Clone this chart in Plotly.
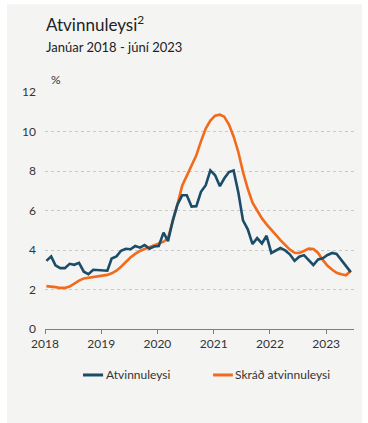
import pandas as pd
import plotly.graph_objects as go

# Monthly observations, January 2018 - June 2023
months = pd.date_range("2018-01-01", periods=66, freq="MS") + pd.Timedelta(days=9)

atvinnuleysi = [
    3.45, 3.68, 3.22, 3.08, 3.08, 3.30, 3.25, 3.35, 2.90, 2.78, 3.00, 2.98,
    2.98, 2.95, 3.57, 3.68, 3.96, 4.06, 4.04, 4.20, 4.12, 4.25, 4.07, 4.18,
    4.20, 4.88, 4.45, 5.50, 6.30, 6.77, 6.77, 6.20, 6.22, 6.95, 7.28, 8.03,
    7.78, 7.23, 7.62, 7.95, 8.03, 6.90, 5.50, 5.05, 4.30, 4.60, 4.33, 4.72,
    3.85, 3.98, 4.10, 3.98, 3.78, 3.45, 3.66, 3.74, 3.48, 3.24, 3.52, 3.58,
    3.75, 3.85, 3.80, 3.48, 3.15, 2.88,
]
skrad = [
    2.17, 2.16, 2.12, 2.08, 2.08, 2.15, 2.30, 2.45, 2.56, 2.60, 2.63, 2.66,
    2.69, 2.74, 2.82, 2.95, 3.15, 3.40, 3.62, 3.80, 3.95, 4.05, 4.15, 4.25,
    4.33, 4.42, 4.60, 5.40, 6.30, 7.25, 7.75, 8.25, 8.80, 9.50, 10.15, 10.55,
    10.80, 10.85, 10.75, 10.35, 9.75, 8.95, 7.95, 7.10, 6.40, 6.00, 5.60, 5.30,
    5.00, 4.75, 4.50, 4.25, 4.02, 3.86, 3.85, 3.95, 4.07, 4.05, 3.85, 3.50,
    3.20, 3.00, 2.85, 2.77, 2.72, 2.95,
]
series_names = ["Atvinnuleysi", "Skráð atvinnuleysi"]
year_ticks = ["2018", "2019", "2020", "2021", "2022", "2023"]
y_ticks = [0, 2, 4, 6, 8, 10, 12]

BLUE = "#1b4d68"
ORANGE = "#f26a1b"
FONT = "Lato"
TXT = "#333333"

fig = go.Figure()
fig.add_trace(go.Scatter(x=months, y=skrad, name=series_names[1], mode="lines",
                         line=dict(color=ORANGE, width=2.6)))
fig.add_trace(go.Scatter(x=months, y=atvinnuleysi, name=series_names[0], mode="lines",
                         line=dict(color=BLUE, width=2.6)))

fig.update_layout(
    width=368, height=423,
    margin=dict(l=45, r=14, t=92, b=94),
    paper_bgcolor="white",
    plot_bgcolor="rgba(0,0,0,0)",
    showlegend=False,
    font=dict(family=FONT, size=12, color=TXT),
    xaxis=dict(
        range=["2018-01-01", "2023-07-01"],
        tickvals=[f"{y}-01-01" for y in year_ticks],
        ticktext=year_ticks,
        showgrid=False, showline=True, linecolor="#7f7f7f", linewidth=1,
        ticks="outside", ticklen=4, tickcolor="#7f7f7f",
        tickfont=dict(size=12, color=TXT), zeroline=False,
    ),
    yaxis=dict(
        range=[0, 12], tickvals=y_ticks,
        showgrid=True, gridcolor="#c9c9c9", griddash="dot", gridwidth=1,
        zeroline=False, showline=False, ticks="",
        ticklabelstandoff=8,
        tickfont=dict(size=12, color=TXT),
    ),
    shapes=[
        dict(type="rect", xref="paper", yref="paper", x0=-0.123, x1=1.026,
             y0=-0.40, y1=1.37, fillcolor="#f4f4f3", line=dict(width=0), layer="below"),
        dict(type="line", xref="paper", yref="paper", x0=0.123, x1=0.188,
             y0=-0.194, y1=-0.194, line=dict(color=BLUE, width=3)),
        dict(type="line", xref="paper", yref="paper", x0=0.544, x1=0.608,
             y0=-0.194, y1=-0.194, line=dict(color=ORANGE, width=3)),
    ],
    annotations=[
        dict(text="Atvinnuleysi<sup>2</sup>", xref="paper", yref="paper", x=-0.003, y=1.29,
             xanchor="left", yanchor="middle", showarrow=False,
             font=dict(size=17, color="#222222", family=FONT)),
        dict(text="Janúar 2018 - júní 2023", xref="paper", yref="paper", x=-0.003, y=1.188,
             xanchor="left", yanchor="middle", showarrow=False,
             font=dict(size=13, color="#222222", family=FONT)),
        dict(text="%", xref="paper", yref="paper", x=0.014, y=1.054,
             xanchor="left", yanchor="middle", showarrow=False,
             font=dict(size=12, color=TXT, family=FONT)),
        dict(text=series_names[0], xref="paper", yref="paper", x=0.19, y=-0.194,
             xanchor="left", yanchor="middle", showarrow=False,
             font=dict(size=12, color=TXT, family=FONT)),
        dict(text=series_names[1], xref="paper", yref="paper", x=0.61, y=-0.194,
             xanchor="left", yanchor="middle", showarrow=False,
             font=dict(size=12, color=TXT, family=FONT)),
    ],
)

fig.write_html("out.html")
